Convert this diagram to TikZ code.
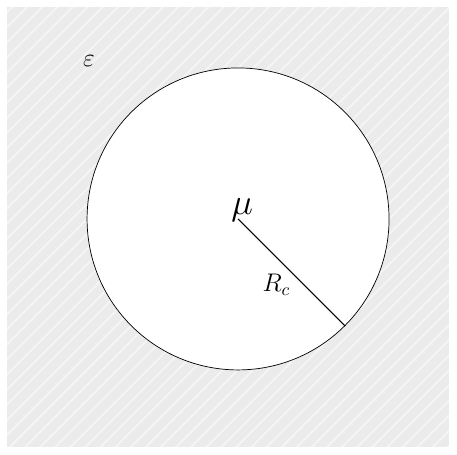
\documentclass[tikz,border=0pt]{standalone}
\usepackage{amsmath,amssymb}
\usepackage{xcolor}
\definecolor{bggray}{HTML}{EBEBEB}
\definecolor{stripegray}{HTML}{F5F5F5}
\usetikzlibrary{positioning}

\begin{document}
\begin{tikzpicture}
      \useasboundingbox (-4.73,-4.69) rectangle (4.35,4.35);
      % Background region
      \fill[bggray] (-4.59,-4.53) rectangle (4.19,4.21);
      \begin{scope}
        \clip (-4.59,-4.53) rectangle (4.19,4.21);
        \foreach \c in {-9.3,-9.0,...,9.3} {
          \draw[stripegray, line width=1pt] (\c-5,-5) -- (\c+5,5);
        }
      \end{scope}
      % Epsilon label
      \node[font=\Large] (eps) at (-2.96,3.14) {$\varepsilon$};

      % Ball around mu
      \node[circle, draw, fill=white, minimum size=6cm, inner sep=0pt] (ball) at (0,0) {};
      \coordinate (centre) at (ball.center);
      \node[font=\huge, anchor=base] (mu) at (0.08,0.09) {$\mu$};
      % Radius
      \draw[semithick] (centre) -- (ball.-45) node[midway, below left, font=\Large, inner sep=0.5pt] (rc) {$R_c$};
    \end{tikzpicture}
\end{document}
